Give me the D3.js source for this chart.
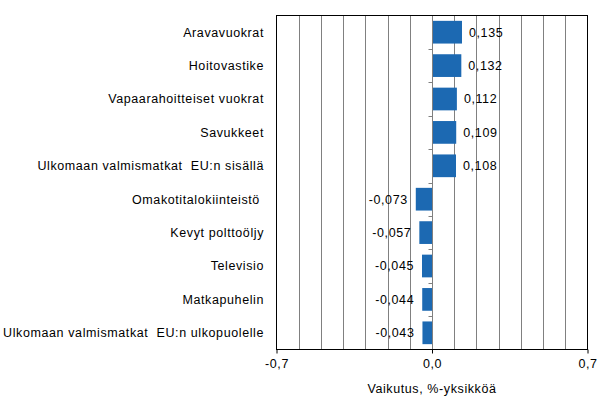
<!DOCTYPE html>
<html>
<head>
<meta charset="utf-8">
<script src="https://cdn.jsdelivr.net/npm/d3@7.9.0/dist/d3.min.js"></script>
<style>
  body { margin: 0; background: #fff; }
  svg text { font-family: "Liberation Sans", Arial, sans-serif; font-size: 12.5px; letter-spacing: 0.6px; fill: #000; white-space: pre; }
</style>
</head>
<body>
<svg width="607" height="418"></svg>
<script>
const categories = [
  'Aravavuokrat',
  'Hoitovastike',
  'Vapaarahoitteiset vuokrat',
  'Savukkeet',
  'Ulkomaan valmismatkat  EU:n sisällä',
  'Omakotitalokiinteistö ',
  'Kevyt polttoöljy',
  'Televisio',
  'Matkapuhelin',
  'Ulkomaan valmismatkat  EU:n ulkopuolelle'
];
const values = [0.135, 0.132, 0.112, 0.109, 0.108, -0.073, -0.057, -0.045, -0.044, -0.043];
const tickValues = [-0.7, 0, 0.7];
const gridValues = d3.range(-7, 8).map(d => d / 10);
const axisTitle = 'Vaikutus, %-yksikköä';

const fmt = v => (v < 0 ? '-' : '') + Math.abs(v).toFixed(3).replace('.', ',');
const fmtTick = v => (v < 0 ? '-' : '') + Math.abs(v).toFixed(1).replace('.', ',');

const plotL = 276.5, plotR = 587.5, plotT = 15.5, plotB = 349.5;
const svg = d3.select('svg');

const x = d3.scaleLinear().domain([-0.7, 0.7]).range([plotL, plotR]);
const y = d3.scaleBand().domain(categories).range([plotT, plotB]).paddingInner(0.32).paddingOuter(0.16);
const band = d3.scaleBand().domain(categories).range([plotT, plotB]);

// grid
svg.append('g').selectAll('line')
  .data(gridValues.filter(d => d !== 0 && Math.abs(d) < 0.7))
  .join('line')
  .attr('x1', d => Math.round(x(d)) + 0.5).attr('x2', d => Math.round(x(d)) + 0.5)
  .attr('y1', plotT).attr('y2', plotB)
  .attr('stroke', '#808080').attr('stroke-width', 1);

// bars
svg.append('g').selectAll('rect')
  .data(values)
  .join('rect')
  .attr('x', d => x(Math.min(0, d)))
  .attr('width', d => Math.abs(x(d) - x(0)))
  .attr('y', (d, i) => y(categories[i]))
  .attr('height', y.bandwidth())
  .attr('fill', '#1c69b2');

// zero axis with small ticks at band boundaries
const x0 = Math.round(x(0)) + 0.5;
svg.append('line')
  .attr('x1', x0).attr('x2', x0).attr('y1', plotT).attr('y2', plotB)
  .attr('stroke', '#808080');
svg.append('g').selectAll('line')
  .data(categories.slice(1))
  .join('line')
  .attr('x1', x0 - 4).attr('x2', x0)
  .attr('y1', d => Math.round(band(d)) + 0.5).attr('y2', d => Math.round(band(d)) + 0.5)
  .attr('stroke', '#808080');

// frame
svg.append('rect')
  .attr('x', plotL).attr('y', plotT)
  .attr('width', plotR - plotL).attr('height', plotB - plotT)
  .attr('fill', 'none').attr('stroke', '#000');

// x axis
const xAxis = svg.append('g')
  .attr('transform', `translate(0,${plotB})`)
  .call(d3.axisBottom(x).tickValues(tickValues).tickFormat(fmtTick).tickSize(4).tickPadding(6));
xAxis.select('.domain').remove();
xAxis.selectAll('line').attr('stroke', '#000');
xAxis.selectAll('text').attr('font-size', null).attr('font-family', null);

svg.append('text')
  .attr('x', x(0)).attr('y', 393)
  .attr('text-anchor', 'middle')
  .text(axisTitle);

// category labels
svg.append('g').selectAll('text')
  .data(categories)
  .join('text')
  .attr('x', 264)
  .attr('y', d => band(d) + band.bandwidth() / 2)
  .attr('dy', '0.35em')
  .attr('text-anchor', 'end')
  .text(d => d);

// value labels
svg.append('g').selectAll('text')
  .data(values)
  .join('text')
  .attr('x', d => d >= 0 ? x(d) + 7 : x(d) - 8)
  .attr('y', (d, i) => band(categories[i]) + band.bandwidth() / 2)
  .attr('dy', '0.35em')
  .attr('text-anchor', d => d >= 0 ? 'start' : 'end')
  .text(fmt);
</script>
</body>
</html>
